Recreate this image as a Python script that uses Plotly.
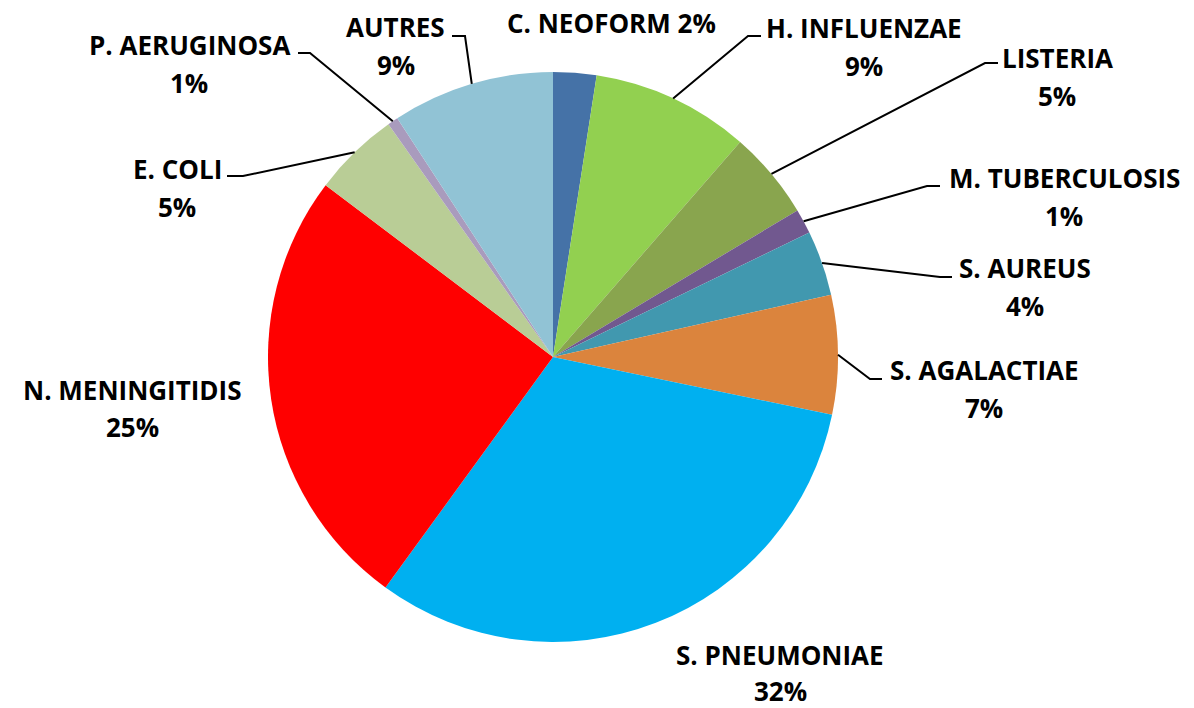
import math
import plotly.graph_objects as go

# ---- data ----
labels = ["C. NEOFORM", "H. INFLUENZAE", "LISTERIA", "M. TUBERCULOSIS", "S. AUREUS",
          "S. AGALACTIAE", "S. PNEUMONIAE", "N. MENINGITIDIS", "E. COLI",
          "P. AERUGINOSA", "AUTRES"]
values = [2.45, 8.95, 5.0, 1.4, 3.7, 6.75, 31.75, 25.3, 4.9, 0.6, 9.2]
colors = ["#4572A7", "#92D050", "#89A54E", "#71588F", "#4198AF", "#DB843D",
          "#00B0F0", "#FF0000", "#B9CD96", "#A99BBD", "#91C3D5"]

# ---- layout (pixels) ----
W, H = 1194, 708
CX, CY, R = 553, 357, 285
LINE_PITCH = 38
# text centre x, cap-middle y of the name line
label_pos = {
    "C. NEOFORM": (611, 22.5),
    "H. INFLUENZAE": (864, 28),
    "LISTERIA": (1057, 58),
    "M. TUBERCULOSIS": (1064, 177.5),
    "S. AUREUS": (1025, 268),
    "S. AGALACTIAE": (984, 369.5),
    "S. PNEUMONIAE": (780, 655),
    "N. MENINGITIDIS": (132, 389.5),
    "E. COLI": (177, 168.5),
    "P. AERUGINOSA": (189, 45.5),
    "AUTRES": (395.5, 27),
}
pitch_override = {"S. PNEUMONIAE": 35.5}
one_line = {"C. NEOFORM"}
# leader lines: elbow point, end point (near text)
leaders = {
    "H. INFLUENZAE": ((748, 36), (761, 36)),
    "LISTERIA": ((985, 63), (998, 63)),
    "M. TUBERCULOSIS": ((927, 186), (940, 186)),
    "S. AUREUS": ((940, 277), (952, 277)),
    "S. AGALACTIAE": ((870, 379), (882, 379)),
    "E. COLI": ((243, 176), (227, 176)),
    "P. AERUGINOSA": ((310, 53), (298, 53)),
    "AUTRES": ((465, 36), (452, 36)),
}


def px(x, y):
    return x / W, 1 - y / H


total = sum(values)
dx0, dy0 = px(CX - R, CY + R)
dx1, dy1 = px(CX + R, CY - R)
fig = go.Figure(go.Pie(
    labels=labels, values=values, sort=False, direction="clockwise", rotation=0,
    marker=dict(colors=colors, line=dict(width=0)),
    textinfo="none", hoverinfo="label+percent", showlegend=False,
    domain=dict(x=[dx0, dx1], y=[dy0, dy1]),
))

font = dict(family="Open Sans", size=26, color="black", weight="bold")
annotations = []
shapes = []
cum = 0.0
for lab, val in zip(labels, values):
    mid = cum + val / 2
    cum += val
    pct = f"{round(100 * val / total)}%"
    tx, ty = label_pos[lab]
    if lab in one_line:
        x, y = px(tx, ty)
        annotations.append(dict(text=f"{lab} {pct}", x=x, y=y, xref="paper", yref="paper",
                                xanchor="center", yanchor="middle", showarrow=False, font=font))
    else:
        x, y = px(tx, ty)
        annotations.append(dict(text=lab, x=x, y=y, xref="paper", yref="paper",
                                xanchor="center", yanchor="middle", showarrow=False, font=font))
        x, y = px(tx, ty + pitch_override.get(lab, LINE_PITCH))
        annotations.append(dict(text=pct, x=x, y=y, xref="paper", yref="paper",
                                xanchor="center", yanchor="middle", showarrow=False, font=font))
    if lab in leaders:
        theta = math.radians(360 * mid / total)
        ex, ey = CX + R * math.sin(theta), CY - R * math.cos(theta)
        (bx, by), (ddx, ddy) = leaders[lab]
        p0, p1, p2 = px(ex, ey), px(bx, by), px(ddx, ddy)
        shapes.append(dict(type="path", xref="paper", yref="paper",
                           path=f"M {p0[0]},{p0[1]} L {p1[0]},{p1[1]} L {p2[0]},{p2[1]}",
                           line=dict(color="black", width=2)))

fig.update_layout(
    width=W, height=H, margin=dict(l=0, r=0, t=0, b=0),
    paper_bgcolor="white", plot_bgcolor="white",
    annotations=annotations, shapes=shapes,
)
fig.write_html("out.html", config={"displayModeBar": False},
               post_script="document.body.style.margin='0';document.body.style.overflow='hidden';")
